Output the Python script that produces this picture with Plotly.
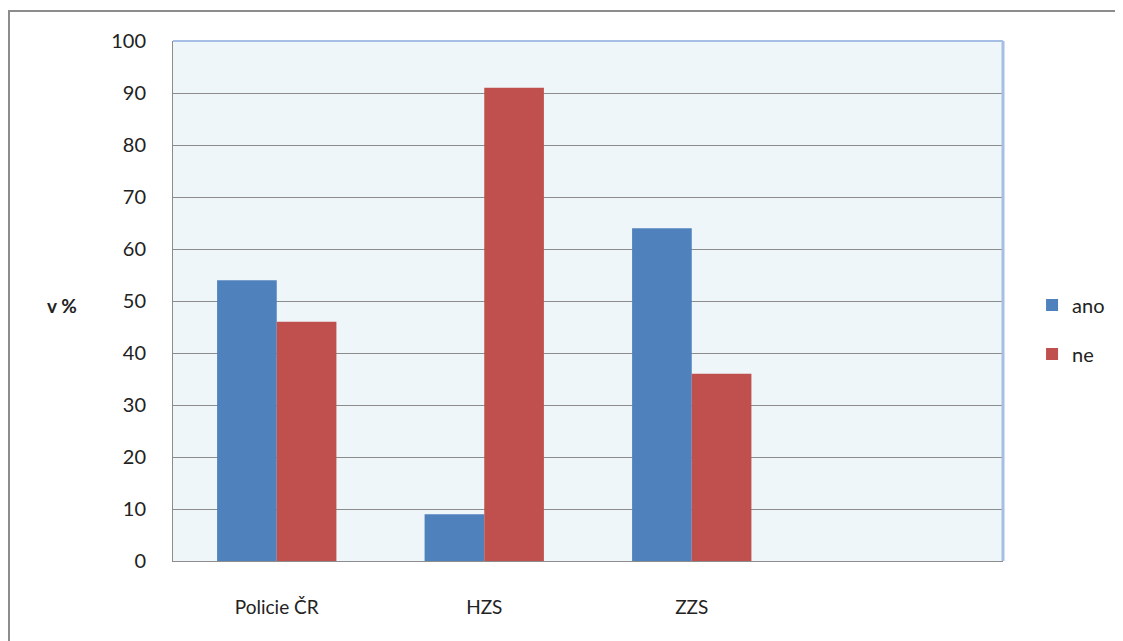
import plotly.graph_objects as go

categories = ["Policie ČR", "HZS", "ZZS", " "]
ano = [54, 9, 64, None]
ne = [46, 91, 36, None]
y_ticks = [0, 10, 20, 30, 40, 50, 60, 70, 80, 90, 100]

font_family = "Lato, 'Open Sans', sans-serif"

fig = go.Figure()
fig.add_trace(go.Bar(name="ano", x=categories, y=ano, legendgroup="a",
                     marker=dict(color="#4f81bd", line=dict(width=0))))
fig.add_trace(go.Bar(name="ne", x=categories, y=ne, legendgroup="b",
                     marker=dict(color="#c0504d", line=dict(width=0))))

fig.update_layout(
    width=1115, height=633,
    margin=dict(l=165, r=120, t=33, b=80),
    paper_bgcolor="white",
    plot_bgcolor="#eef6fa",
    barmode="group",
    bargap=0.425,
    bargroupgap=0,
    font=dict(family=font_family, size=19, color="#222222"),
    legend=dict(x=1.035, y=0.445, xanchor="left", yanchor="middle",
                font=dict(size=20), tracegroupgap=20, itemwidth=30,
                bgcolor="rgba(0,0,0,0)"),
    showlegend=True,
)
fig.update_xaxes(
    type="category",
    showline=True, linecolor="#8c8c8c", linewidth=1, mirror=False,
    showgrid=False, ticks="", ticklabelstandoff=29,
    tickfont=dict(size=19),
)
fig.update_yaxes(
    range=[0, 100], tickvals=y_ticks,
    showline=True, linecolor="#8c8c8c", linewidth=1,
    showgrid=True, gridcolor="#8c8c8c", gridwidth=1,
    ticks="", ticklabelstandoff=22, zeroline=False,
    tickfont=dict(size=20),
)
# light blue top/right border of plot area
fig.add_shape(type="line", xref="paper", yref="paper", x0=0, x1=1, y0=1, y1=1,
              line=dict(color="#a6bde6", width=2))
fig.add_shape(type="line", xref="paper", yref="paper", x0=1, x1=1, y0=0, y1=1,
              line=dict(color="#a6bde6", width=3))
# outer frame
fig.add_shape(type="rect", xref="paper", yref="paper",
              x0=-164/830, x1=1.3, y0=-0.3, y1=1 + 30/520,
              line=dict(color="#8c8c8c", width=2), layer="below")
fig.add_annotation(text="<b>v %</b>", xref="paper", yref="paper",
                   x=-111/830, y=(561 - 305) / 520, showarrow=False,
                   xanchor="center", yanchor="middle", font=dict(size=19))

fig.write_html("out.html")
